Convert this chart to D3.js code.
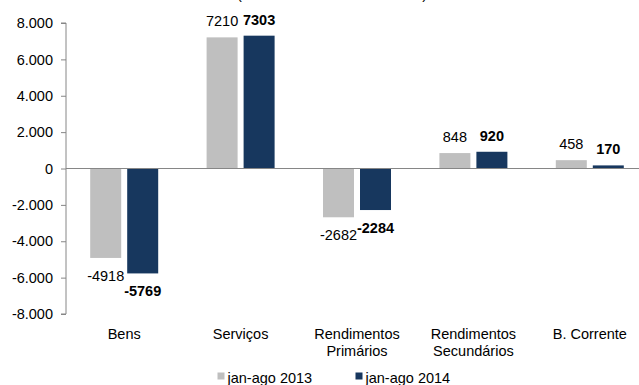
<!DOCTYPE html>
<html><head><meta charset="utf-8">
<script src="https://cdn.jsdelivr.net/npm/d3@7"></script>
<style>body{margin:0;background:#fff}svg{display:block;font-family:"Liberation Sans",Arial,sans-serif}</style>
</head><body>
<svg id="c" width="639" height="385"></svg>
<script>
const categories = [["Bens"],["Serviços"],["Rendimentos","Primários"],["Rendimentos","Secundários"],["B. Corrente"]];
const seriesNames = ["jan-ago 2013","jan-ago 2014"];
const values2013 = [-4918, 7210, -2682, 848, 458];
const values2014 = [-5769, 7303, -2284, 920, 170];
const tickValues = [-8000,-6000,-4000,-2000,0,2000,4000,6000,8000];
const tickLabels = ["-8.000","-6.000","-4.000","-2.000","0","2.000","4.000","6.000","8.000"];
const colors = ["#BFBFBF","#17375E"];

const svg = d3.select("#c");
const keys = categories.map(c=>c.join(" "));
const x0 = d3.scaleBand().domain(keys).range([66,648]).padding(0);
const bw = x0.bandwidth();
const x1 = d3.scaleBand().domain(seriesNames).range([bw/2-34, bw/2+34]).paddingInner(6/37).paddingOuter(0);
const y = d3.scaleLinear().domain([-8000,8000]).range([314,23]);
const fs = "14.5px";

// title (cut off at top, as in the reference)
svg.append("text").attr("x",332).attr("y",-1.5).attr("text-anchor","middle").style("font-size",fs).attr("fill","#000")
  .text("(saldos em milhões de euros)");

// y axis
const yAxis = d3.axisLeft(y).tickValues(tickValues).tickFormat((d,i)=>tickLabels[i]).tickSize(5).tickPadding(8);
const ga = svg.append("g").attr("transform","translate(66,0)").call(yAxis);
ga.select(".domain").attr("stroke","#868686").attr("d",`M-5,${y(8000)}H0V${y(-8000)}H-5`);
ga.selectAll(".tick line").attr("stroke","#868686");
ga.selectAll(".tick text").style("font-size",fs).attr("fill","#000").style("font-family","'Liberation Sans',Arial,sans-serif");

const data = keys.map((k,i)=>({k, vals:[values2013[i], values2014[i]]}));
const g = svg.append("g");
data.forEach(d=>{
  d.vals.forEach((v,j)=>{
    const s = seriesNames[j];
    const xx = x0(d.k)+x1(s);
    g.append("rect").attr("x",xx).attr("width",x1.bandwidth())
      .attr("y",y(Math.max(0,v))).attr("height",Math.abs(y(v)-y(0)))
      .attr("fill",colors[j]);
    g.append("text").attr("x",xx+x1.bandwidth()/2)
      .attr("y", v>=0 ? y(v)-11 : y(v)+23)
      .attr("text-anchor","middle").style("font-size",fs)
      .style("font-weight", j===1?"bold":"normal").attr("fill","#000").text(v);
  });
});

// zero line
svg.append("line").attr("x1",66).attr("x2",639).attr("y1",y(0)).attr("y2",y(0)).attr("stroke","#868686");

// category labels
categories.forEach((c,i)=>{
  const t = svg.append("text").attr("x",x0(keys[i])+bw/2).attr("y",339).attr("text-anchor","middle").style("font-size",fs).attr("fill","#000");
  c.forEach((line,li)=>t.append("tspan").attr("x",x0(keys[i])+bw/2).attr("dy",li===0?0:16.5).text(line));
});

// legend
const legX = [217.5, 355.5];
seriesNames.forEach((s,j)=>{
  svg.append("rect").attr("x",legX[j]).attr("y",372.5).attr("width",7).attr("height",7).attr("fill",colors[j]);
  svg.append("text").attr("x",legX[j]+10).attr("y",382.5).style("font-size",fs).attr("fill","#000").text(s);
});
</script>
</body></html>
